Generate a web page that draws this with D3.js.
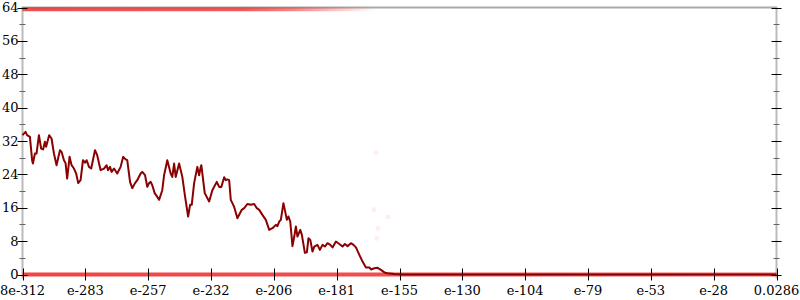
<!DOCTYPE html>
<html>
<head>
<meta charset="utf-8">
<script src="https://cdn.jsdelivr.net/npm/d3@7"></script>
<style>
body { margin: 0; background: #fff; }
text { font-family: "DejaVu Serif", serif; font-size: 13px; fill: #000; }
</style>
</head>
<body>
<svg id="chart"></svg>
<script>
// bins along the (log) x axis, 0 .. 376.5
var binIdx = [0,1.5,2.3,3.7,4.8,5.2,6.2,7,8.2,9.3,10.3,11.2,11.8,13.3,14.5,15.7,17,18.7,19.5,20.7,21.5,22.3,23.5,24.5,25.7,26.8,27.8,29,30.2,31.2,32,33.2,34.3,36.2,37.3,39,40.7,42,42.7,43.7,44.5,45.7,47.3,49,50.3,51.5,52.3,53.7,54.8,56.2,57.3,59,59.8,61.2,62.3,63.2,64,64.8,66,67.3,68.2,69.8,70.7,72.3,74,74.8,75.7,76.5,78.2,79.8,81.2,82.7,83.7,84.5,85.7,87.3,88.2,89,89.3,91,93.2,94.8,97,98.2,99.3,100.7,101.5,102.3,103.2,104,105.7,107.3,108.2,109.5,110.7,112.3,114,115.7,117,118.2,119.8,121.5,123.2,124.8,126.5,127.3,128.2,129,130.3,131,132,132.8,133.7,134.8,135.7,136.5,137.3,138.7,139.5,141,142,142.8,143.7,144.8,145.7,147.3,148.5,149.8,151,152.3,153.7,154.8,156.5,158.2,159.8,161,162.3,164,165.3,166.5,168.2,169.8,171.5,173.2,174,175.7,177.3,179,180.7,182.3,185.7,190,376.5];
var counts = [33.4,34.2,33.4,33,27.4,26.6,29,29,33.4,30.2,30,31.8,30.6,33.4,32.6,29,26.2,29.8,29.4,27.4,26.7,23,28.2,26.2,25.4,24.2,21.9,22.6,27.4,26.8,27.4,25.8,25.4,29.8,28.6,25,25.4,26.2,25,25.8,24.6,25.4,24.2,25.8,28.2,27.6,27.4,22.2,20.7,21.9,22.6,24.2,24.6,23.8,21,21.9,22.2,21.4,19.5,18.6,17.9,20.2,23.8,27.4,24.2,23.4,26.6,23.4,26.6,23.4,18.6,13.9,16.7,16.7,21.9,25.8,23.8,25.8,26.2,19.5,17.5,20.2,22.2,21,21,23.3,22.6,22.8,22.6,17.9,16.2,13.5,14.3,15.5,15.9,16.9,16.7,16.9,15.9,15.5,14.3,13.1,10.7,11.1,11.9,11.6,12.7,13.1,17.1,15.5,13.1,13.9,12.7,6.8,9.1,11.5,9.1,10.7,9.5,5.2,5.3,8.7,8.3,5.5,6.7,7.1,5.9,7.1,6.7,7.5,7.1,6.5,7.9,7.3,6.7,7.3,6.8,7.5,7.1,6.5,4.7,3.1,1.7,1.7,1.2,1.5,1.6,1.1,0.5,0.3,0.1,0,0];

// density of raw samples clipped at the top (64) and bottom (0)
var topDensity = [[0,0.8],[110,0.75],[135,0.55],[150,0.35],[165,0.15],[176,0]];
var bottomDensity = [[0,0.85],[180,0.8],[376.5,0.7]];
// faint stray samples
var strayX = [176.5,175.5,182.5,177.5,177];
var strayY = [29.1,15.5,13.8,11.1,8.7];

var xTickLabels = ["8e-312","e-283","e-257","e-232","e-206","e-181","e-155","e-130","e-104","e-79","e-53","e-28","0.0286"];
var yMajor = [0,8,16,24,32,40,48,56,64];
var yMinor = [4,12,20,28,36,44,52,60];

var width = 800, height = 300;
var mLeft = 22.5, mRight = 776.5, mTop = 7.5, mBottom = 274.5;

var svg = d3.select("#chart").attr("width", width).attr("height", height);

var x = d3.scaleLinear().domain([0, 376.5]).range([mLeft, mRight]);
var y = d3.scaleLinear().domain([0, 64]).range([mBottom, mTop]);
var xTickPos = d3.scaleLinear().domain([0, xTickLabels.length - 1]).range([mLeft, mRight]);

var defs = svg.append("defs");
var makeGrad = function(id, dens){
    var g = defs.append("linearGradient")
        .attr("id", id)
        .attr("gradientUnits", "userSpaceOnUse")
        .attr("x1", mLeft).attr("x2", mRight).attr("y1", 0).attr("y2", 0);
    g.selectAll("stop").data(dens).enter().append("stop")
        .attr("offset", function(d){ return (x(d[0]) - mLeft) / (mRight - mLeft); })
        .attr("stop-color", "#ee2222")
        .attr("stop-opacity", function(d){ return d[1]; });
}
makeGrad("topGrad", topDensity);
makeGrad("botGrad", bottomDensity);

// frame
svg.append("line").attr("x1", mLeft).attr("x2", mRight).attr("y1", mTop).attr("y2", mTop)
    .attr("stroke", "#aaa").attr("stroke-width", 2);
[mLeft, mRight].forEach(function(px){
    svg.append("line").attr("x1", px).attr("x2", px).attr("y1", mTop - 1).attr("y2", mBottom + 4)
        .attr("stroke", "#bbb").attr("stroke-width", 2);
});

// clipped sample bands
svg.append("line")
    .attr("x1", x(0)).attr("x2", x(376.5))
    .attr("y1", y(63.6)).attr("y2", y(63.6))
    .attr("stroke", "url(#topGrad)").attr("stroke-width", 4);
svg.append("line")
    .attr("x1", x(0)).attr("x2", x(376.5))
    .attr("y1", y(0)).attr("y2", y(0))
    .attr("stroke", "url(#botGrad)").attr("stroke-width", 4);

svg.selectAll(".stray").data(strayX).enter().append("circle")
    .attr("class", "stray")
    .attr("cx", function(d){ return x(d); })
    .attr("cy", function(d,i){ return y(strayY[i]); })
    .attr("r", 2.5)
    .attr("fill", "#ee2222").attr("fill-opacity", 0.08);

// y ticks, both sides
[mLeft, mRight].forEach(function(px){
    svg.selectAll(null).data(yMajor).enter().append("line")
        .attr("x1", px - 5).attr("x2", px + 5)
        .attr("y1", function(d){ return Math.round(y(d)) + 0.5; }).attr("y2", function(d){ return Math.round(y(d)) + 0.5; })
        .attr("stroke", "#000").attr("stroke-width", 1);
    svg.selectAll(null).data(yMinor).enter().append("line")
        .attr("x1", px - 3).attr("x2", px + 3)
        .attr("y1", function(d){ return Math.round(y(d)) + 0.5; }).attr("y2", function(d){ return Math.round(y(d)) + 0.5; })
        .attr("stroke", "#666").attr("stroke-width", 1);
});
svg.selectAll(".ylab").data(yMajor).enter().append("text")
    .attr("class", "ylab")
    .attr("x", mLeft - 4)
    .attr("y", function(d){ return y(d); })
    .attr("dy", "0.35em")
    .attr("text-anchor", "end")
    .text(function(d){ return d; });

// x ticks
svg.selectAll(".xtick").data(xTickLabels).enter().append("line")
    .attr("class", "xtick")
    .attr("x1", function(d,i){ return Math.round(xTickPos(i)) + 0.5; })
    .attr("x2", function(d,i){ return Math.round(xTickPos(i)) + 0.5; })
    .attr("y1", mBottom - 6).attr("y2", mBottom + 6)
    .attr("stroke", "#000").attr("stroke-width", 1);
svg.selectAll(".xlab").data(xTickLabels).enter().append("text")
    .attr("class", "xlab")
    .attr("x", function(d,i){ return xTickPos(i); })
    .attr("y", 295)
    .attr("text-anchor", "middle")
    .text(function(d){ return d; });

// the histogram line
var line = d3.line()
    .x(function(d,i){ return x(binIdx[i]); })
    .y(function(d){ return y(d); });
svg.append("path")
    .datum(counts)
    .attr("d", line)
    .attr("fill", "none")
    .attr("stroke", "#8b0000")
    .attr("stroke-width", 2)
    .attr("stroke-linejoin", "round");
</script>
</body>
</html>
